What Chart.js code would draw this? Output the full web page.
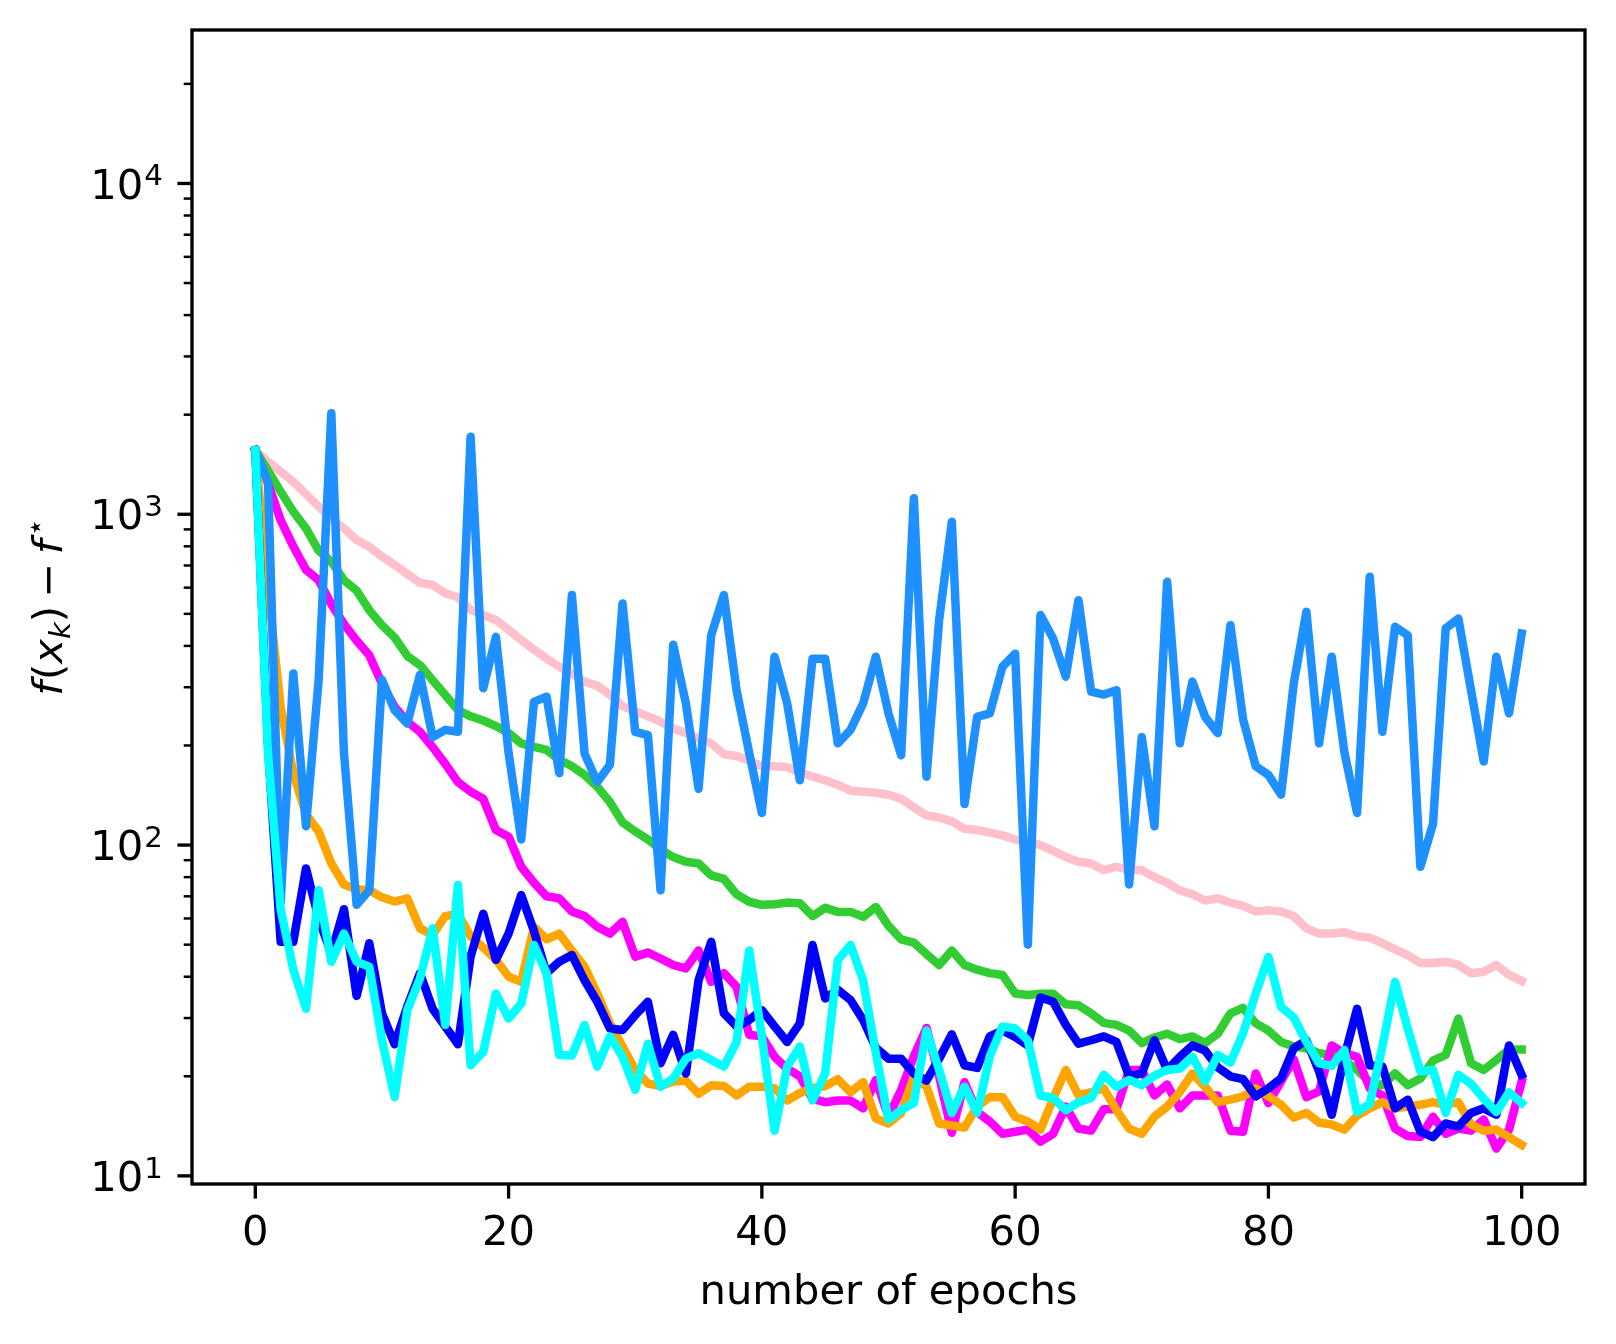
<!DOCTYPE html>
<html lang="en">
<head>
<meta charset="UTF-8">
<title>f(x_k) - f* vs number of epochs</title>
<script src="https://cdn.jsdelivr.net/npm/chart.js"></script>
<style>
  html, body { margin: 0; padding: 0; background: #fff; }
  #wrap { width: 1616px; height: 1344px; }
</style>
</head>
<body>
<div id="wrap"><canvas id="chart" width="1616" height="1344"></canvas></div>
<script>
// x categories: epoch index 0..100
const epochs = Array.from({ length: 101 }, (_, i) => i);

// series values
const pinkVals = [1560, 1443, 1346, 1254, 1151, 1055, 973, 906, 836, 798, 745, 703, 660, 621, 611, 577, 561, 514, 496, 479,
  447, 417, 390, 366, 346, 329, 312, 303, 285, 263, 254, 245, 236, 225, 218, 210, 203, 188, 186, 180,
  173, 173, 172, 166, 161, 157, 152, 146, 145, 144, 142, 138, 130, 123, 121, 118, 112, 111, 109, 107,
  104, 102, 100, 96, 92, 89, 88, 84, 86, 84, 84, 80, 77, 73, 71, 68, 69, 67, 65.5, 63,
  63.5, 63, 61, 56, 54, 54, 54.5, 53, 52.5, 50.5, 48.4, 46.5, 44, 44, 44.4, 43.4, 41, 41.4, 43.4, 40.5, 38.8];

const greenVals = [1560, 1355, 1171, 1019, 906, 777, 719, 632, 588, 513, 462, 424, 373, 350, 315, 284, 256, 245, 238, 229,
  218, 203, 198, 194, 181, 173, 163, 150, 135, 117, 110, 104, 97, 92, 89, 88, 81, 79, 71, 67.4,
  66, 66.2, 67, 66.7, 61, 64.6, 62.8, 62.8, 60.7, 65, 57, 51.9, 50.7, 46.8, 43.4, 48, 43.4, 42, 41, 40.5,
  35.6, 35.2, 35.5, 35.5, 33, 32.8, 31, 29, 28.6, 27.5, 25.2, 26.2, 26.9, 25.9, 26.4, 25.2, 26.9, 31, 32.2, 28.9,
  27.5, 25.4, 24.6, 24.3, 23.5, 23.2, 22.4, 20.9, 19.2, 18.8, 20.4, 18.8, 19.7, 22.3, 23.2, 29.9, 21.9, 20.9, 22.4, 24.1, 24.1];

const magentaVals = [1560, 1240, 960, 800, 680, 632, 535, 466, 415, 375, 308, 262, 236, 220, 198, 176, 155, 145, 138, 111,
  106, 86, 77, 70, 69, 63, 61, 56.6, 54, 58.6, 46, 47.3, 45.4, 43.4, 42.4, 48, 38.6, 41, 37.3, 26.7,
  26.4, 22.9, 21.1, 20, 17.1, 16.7, 16.9, 16.9, 16, 19.5, 15.1, 18.2, 23, 28, 20, 13.5, 19.2, 15.6, 14.6, 13.4,
  13.6, 13.8, 12.7, 13.4, 16.2, 13.9, 13.7, 15.9, 15.9, 20.9, 20.9, 17.5, 18.9, 16, 17.5, 17.5, 17.5, 13.7, 13.6, 20.4,
  16.6, 19.3, 22.5, 17.3, 18, 24.8, 23.5, 22.9, 18.4, 17.5, 13.9, 13.2, 13.1, 15.1, 13.4, 13.9, 13.7, 14.8, 12.1, 13.8, 19.3];

const orangeVals = [1560, 600, 262, 165, 124, 110, 88, 76, 73.5, 73, 69.5, 67.5, 69, 56, 53.5, 61, 62, 53, 49, 45,
  40, 38.6, 56.6, 51.9, 54, 48, 42.9, 35.6, 28.9, 24.6, 20.9, 19, 18.7, 19.3, 19.4, 17.7, 18.8, 18.7, 17.5, 18.6,
  18.6, 18.4, 16.9, 17.8, 18.4, 18.7, 19.6, 17.9, 19.2, 14.9, 14.4, 15.5, 20, 18.6, 14.4, 14.2, 14, 16.2, 17.3, 17.3,
  15.1, 14.6, 13.8, 17.1, 20.9, 17.5, 17.9, 18.4, 15.8, 13.9, 13.4, 15.1, 16.2, 17.9, 20.4, 18.6, 16.7, 17, 17.4, 18.4,
  17.4, 16.4, 15, 15.5, 14.5, 14.3, 13.8, 15.2, 16, 16.7, 16, 16.2, 16.4, 16.7, 16.4, 16.7, 14.3, 13.7, 13.8, 13.1, 12.4];

const blueVals = [1560, 200, 51, 51, 85, 60, 47, 64, 35, 50.5, 31, 25, 32.5, 41, 32, 28.3, 25, 46, 62, 45,
  54, 70.6, 55, 41, 44.4, 46.5, 39, 33.6, 27.9, 27.6, 30.6, 33.6, 21.9, 26.7, 20.4, 39, 51, 31, 28.3, 29.6,
  31.7, 28.3, 25.4, 28.9, 49.9, 34.4, 36.5, 34, 29.6, 24.4, 22.6, 22.6, 20.4, 19.4, 22.6, 26.8, 21.6, 21.2, 26.4, 27.5,
  26.3, 24.8, 34.6, 33.6, 28.6, 25.1, 25.7, 26.4, 25.4, 20, 20.4, 25.7, 20.9, 22.9, 24.8, 23.9, 21.3, 20, 19.6, 17.4,
  18.4, 19.7, 24.3, 25.7, 20.7, 15.3, 22.9, 32, 21.6, 21.4, 16, 17, 13.6, 13.1, 14.4, 14.1, 15.5, 16, 15.3, 24.8, 20.2];

const dodgerVals = [1560, 1254, 67, 330, 114, 315, 2020, 190, 66, 73, 316, 256, 233, 327, 212, 223, 220, 1714, 298, 426,
  190, 104, 271, 281, 165, 570, 189, 155, 175, 537, 220, 215, 73, 403, 268, 148, 431, 570, 294, 190,
  125, 371, 268, 157, 366, 366, 203, 223, 268, 371, 250, 187, 1117, 161, 479, 949, 133, 244, 250, 346,
  379, 50, 496, 421, 323, 550, 291, 285, 294, 76, 212, 114, 625, 203, 312, 244, 218, 462, 240, 173,
  163, 142, 308, 507, 203, 371, 191, 125, 647, 220, 457, 431, 86, 116, 452, 484, 294, 179, 371, 250, 436];

const cyanVals = [1560, 190, 64, 42, 32, 73, 44.4, 54, 44.4, 42.9, 25.7, 17.3, 31.7, 39.5, 56, 28.6, 75.7, 21.6, 23.7, 35.6,
  29.9, 33.2, 49.9, 41, 23.2, 23.1, 28.6, 21.4, 26.4, 22.9, 18.2, 25.1, 18.6, 19.7, 22.6, 23.5, 22.4, 21.4, 25.4, 48,
  26.4, 13.7, 21.4, 24.6, 16.9, 20.4, 44.9, 49.9, 39, 23.5, 14.8, 15.8, 16.6, 27.5, 20.9, 15.5, 18.6, 15.5, 23, 28.3,
  27.9, 25.7, 17.5, 17.2, 15.8, 16.7, 17.2, 20.2, 18.6, 19.5, 18.8, 20.1, 20.9, 21.1, 22.9, 19.3, 23.2, 22, 27, 35.6,
  45.9, 32.4, 30.1, 25.4, 21.9, 21.5, 24, 15.6, 16.5, 24.6, 38.6, 27.9, 20.7, 20.9, 15.5, 20.2, 19, 17.1, 15.6, 17.9, 16.6];

// tick labels
const xTicks = [0, 20, 40, 60, 80, 100];
const yMajor = [10, 100, 1000, 10000];
const yExpLabels = ['1', '2', '3', '4'];

const FONT = '"DejaVu Sans", sans-serif';
const FS = 41.7;
const MAJOR_LEN = 14.6, MINOR_LEN = 8.3, PAD = 14.6;

function mkLine(data, color, order) {
  return { data, borderColor: color, backgroundColor: color, order, fill: false };
}

function drawYLabel(ctx, cx, cy) {
  const big = `${FS}px ${FONT}`, bigI = `italic ${FS}px ${FONT}`;
  const smI = `italic ${FS * 0.7}px ${FONT}`, sm = `${FS * 0.7}px ${FONT}`;
  const parts = [
    { t: 'f', f: bigI, dy: 0, gap: 1 },
    { t: '(', f: big, dy: 0, gap: 0 },
    { t: 'x', f: bigI, dy: 0, gap: 0 },
    { t: 'k', f: smI, dy: 8, gap: 0 },
    { t: ')', f: big, dy: 0, gap: FS * 0.2 },
    { t: '\u2212', f: big, dy: 0, gap: FS * 0.2 },
    { t: 'f', f: bigI, dy: 0, gap: 3 },
    { t: '\u22C6', f: sm, dy: -17, gap: 0 }
  ];
  let total = 0;
  parts.forEach(p => { ctx.font = p.f; p.w = ctx.measureText(p.t).width; total += p.w + p.gap; });
  ctx.save();
  ctx.translate(cx, cy);
  ctx.rotate(-Math.PI / 2);
  ctx.textAlign = 'left';
  ctx.textBaseline = 'alphabetic';
  let x = -total / 2;
  parts.forEach(p => {
    ctx.font = p.f;
    ctx.fillText(p.t, x, p.dy);
    x += p.w + p.gap;
  });
  ctx.restore();
}

const mplAxes = {
  id: 'mplAxes',
  afterDatasetsDraw(chart) {
    const { ctx, chartArea: a, scales: { x, y } } = chart;
    ctx.save();
    ctx.strokeStyle = '#000';
    ctx.fillStyle = '#000';
    ctx.lineCap = 'butt';

    // frame
    ctx.lineWidth = 3.33;
    ctx.strokeRect(a.left, a.top, a.right - a.left, a.bottom - a.top);

    // x ticks + labels
    ctx.font = `${FS}px ${FONT}`;
    ctx.textAlign = 'center';
    ctx.textBaseline = 'alphabetic';
    xTicks.forEach(v => {
      const px = x.getPixelForValue(v);
      ctx.beginPath();
      ctx.moveTo(px, a.bottom);
      ctx.lineTo(px, a.bottom + MAJOR_LEN);
      ctx.stroke();
      ctx.fillText(String(v), px, a.bottom + MAJOR_LEN + PAD + 32);
    });

    // y minor ticks
    ctx.lineWidth = 2.5;
    for (let e = 0; e <= 4; e++) {
      for (let m = 2; m <= 9; m++) {
        const v = m * Math.pow(10, e);
        if (v < y.min || v > y.max) continue;
        const py = y.getPixelForValue(v);
        ctx.beginPath();
        ctx.moveTo(a.left, py);
        ctx.lineTo(a.left - MINOR_LEN, py);
        ctx.stroke();
      }
    }

    // y major ticks + 10^n labels
    ctx.lineWidth = 3.33;
    const right = a.left - MAJOR_LEN - PAD;
    yMajor.forEach((v, i) => {
      const py = y.getPixelForValue(v);
      ctx.beginPath();
      ctx.moveTo(a.left, py);
      ctx.lineTo(a.left - MAJOR_LEN, py);
      ctx.stroke();
      ctx.font = `${FS * 0.7}px ${FONT}`;
      const ws = ctx.measureText(yExpLabels[i]).width;
      ctx.textAlign = 'left';
      ctx.fillText(yExpLabels[i], right - ws, py + 15.2 - 13.4);
      ctx.font = `${FS}px ${FONT}`;
      ctx.textAlign = 'right';
      ctx.fillText('10', right - ws - 1, py + 15.2);
    });

    // axis titles
    ctx.font = `${FS}px ${FONT}`;
    ctx.textAlign = 'center';
    ctx.fillText('number of epochs', (a.left + a.right) / 2, 1304);
    drawYLabel(ctx, 62, (a.top + a.bottom) / 2);
    ctx.restore();
  }
};

new Chart(document.getElementById('chart'), {
  type: 'line',
  data: {
    labels: epochs,
    datasets: [
      mkLine(pinkVals, '#FFC0CB', 6),
      mkLine(greenVals, '#32CD32', 5),
      mkLine(magentaVals, '#FF00FF', 4),
      mkLine(orangeVals, '#FFA500', 3),
      mkLine(blueVals, '#0000FF', 2),
      mkLine(dodgerVals, '#1E90FF', 1),
      mkLine(cyanVals, '#00FFFF', 0)
    ]
  },
  options: {
    responsive: false,
    animation: false,
    devicePixelRatio: 1,
    layout: { padding: { left: 192, right: 31, top: 30, bottom: 160 } },
    plugins: { legend: { display: false }, tooltip: { enabled: false } },
    elements: {
      point: { radius: 0, hoverRadius: 0 },
      line: { tension: 0, borderWidth: 8.5, borderJoinStyle: 'round', borderCapStyle: 'square' }
    },
    scales: {
      x: { type: 'linear', min: -5, max: 105, display: false },
      y: { type: 'logarithmic', min: 9.45, max: 29100, display: false }
    }
  },
  plugins: [mplAxes]
});
</script>
</body>
</html>
